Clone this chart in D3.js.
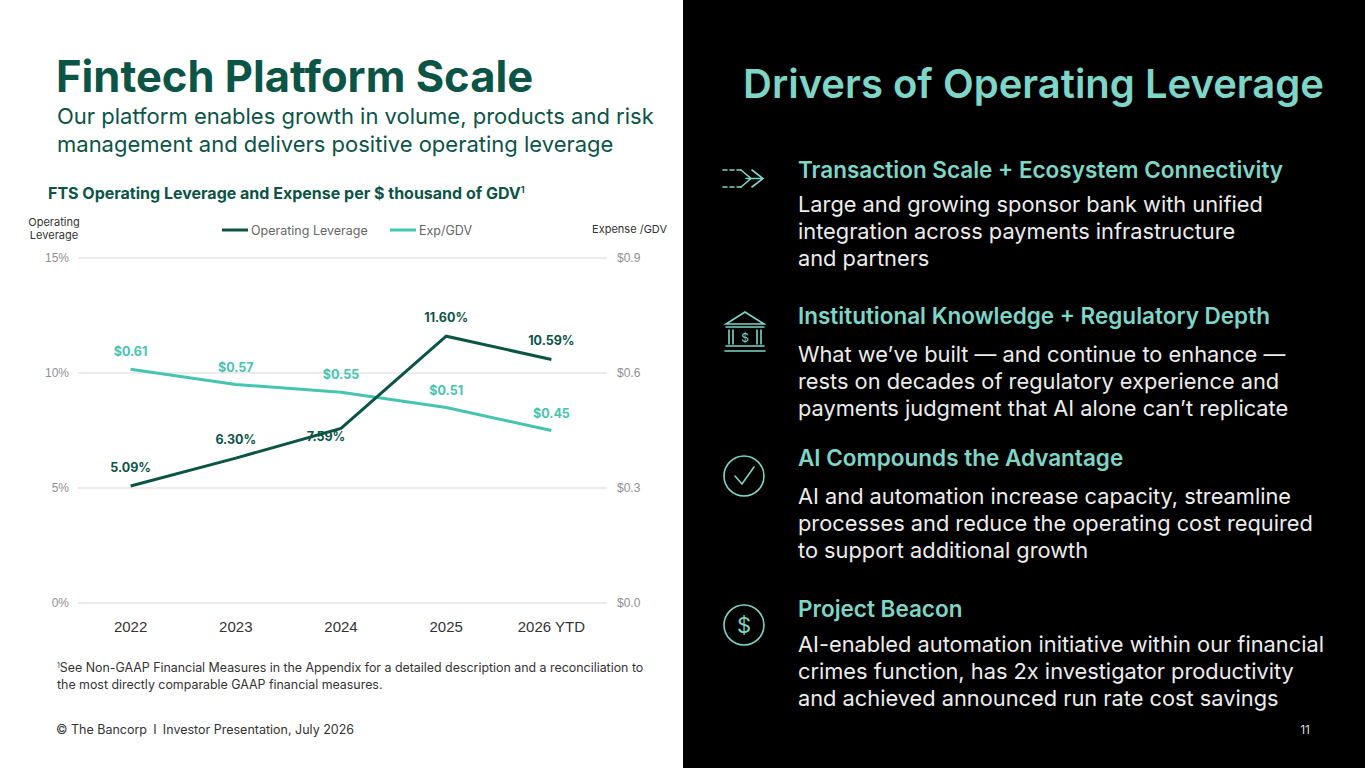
<!DOCTYPE html>
<html lang='en'>
	<head>
		<meta charset='utf-8'>
		<title>Fintech Platform Scale</title>
		<script type='text/javascript' src='https://cdn.jsdelivr.net/npm/d3@7/dist/d3.min.js'></script>
		<style>
			html, body { margin: 0; padding: 0; background: #fff; }
			svg { display: block; font-family: 'Inter', 'Noto Sans', sans-serif; }
			.grid line { stroke: #e6e6e6; stroke-width: 1.5px; }
			.axis text { fill: #8f8f8f; font-size: 12px; }
			.xaxis text { fill: #333; font-size: 15px; }
		</style>
	</head>
	<body>
		<script type='text/javascript'>
			var years = ['2022', '2023', '2024', '2025', '2026 YTD'];
			var opLeverage = [5.09, 6.30, 7.59, 11.60, 10.59];
			var expGdv = [0.61, 0.57, 0.55, 0.51, 0.45];
			var leftTicks = [0, 5, 10, 15];
			var rightTicks = [0, 0.3, 0.6, 0.9];

			var drivers = [
				{ title: 'Transaction Scale + Ecosystem Connectivity',
				  lines: ['Large and growing sponsor bank with unified', 'integration across payments infrastructure', 'and partners'] },
				{ title: 'Institutional Knowledge + Regulatory Depth',
				  lines: ['What we\u2019ve built \u2014 and continue to enhance \u2014', 'rests on decades of regulatory experience and', 'payments judgment that AI alone can\u2019t replicate'] },
				{ title: 'AI Compounds the Advantage',
				  lines: ['AI and automation increase capacity, streamline', 'processes and reduce the operating cost required', 'to support additional growth'] },
				{ title: 'Project Beacon',
				  lines: ['AI-enabled automation initiative within our financial', 'crimes function, has 2x investigator productivity', 'and achieved announced run rate cost savings'] }
			];

			var W = 1365, H = 768;
			var dark = '#0b5446', teal = '#45c4b0', light = '#7dd6c7';

			var svg = d3.select('body').append('svg')
				.attr('width', W).attr('height', H);

			// right dark panel
			svg.append('rect').attr('x', 683).attr('y', 0)
				.attr('width', W - 683).attr('height', H).attr('fill', '#000');

			// left header
			svg.append('text').attr('x', 56).attr('y', 92)
				.attr('fill', dark).attr('font-size', 43.5).attr('font-weight', 700)
				.text('Fintech Platform Scale');
			svg.append('text').attr('x', 57).attr('y', 124)
				.attr('fill', dark).attr('font-size', 22)
				.text('Our platform enables growth in volume, products and risk');
			svg.append('text').attr('x', 57).attr('y', 152)
				.attr('fill', dark).attr('font-size', 22)
				.text('management and delivers positive operating leverage');

			var ct = svg.append('text').attr('x', 48).attr('y', 199)
				.attr('fill', dark).attr('font-size', 16).attr('font-weight', 700)
				.text('FTS Operating Leverage and Expense per $ thousand of GDV');
			ct.append('tspan').attr('font-size', 9).attr('dy', -6).text('1');

			// axis titles
			svg.append('text').attr('x', 54).attr('y', 226).attr('text-anchor', 'middle')
				.attr('fill', '#333').attr('font-size', 11).text('Operating');
			svg.append('text').attr('x', 54).attr('y', 239).attr('text-anchor', 'middle')
				.attr('fill', '#333').attr('font-size', 11).text('Leverage');
			svg.append('text').attr('x', 667).attr('y', 233).attr('text-anchor', 'end')
				.attr('fill', '#333').attr('font-size', 11).text('Expense /GDV');

			// legend
			var legend = svg.append('g').attr('transform', 'translate(222,230)');
			[['Operating Leverage', dark, 0], ['Exp/GDV', teal, 168]].forEach(function(d) {
				legend.append('line').attr('x1', d[2]).attr('x2', d[2] + 26)
					.attr('stroke', d[1]).attr('stroke-width', 3);
				legend.append('text').attr('x', d[2] + 29).attr('y', 4.5)
					.attr('fill', '#666').attr('font-size', 12.5).text(d[0]);
			});

			// scales
			var x = d3.scaleBand().domain(years).range([78, 604]);
			var yL = d3.scaleLinear().domain([0, 15]).range([603, 258]);
			var yR = d3.scaleLinear().domain([0, 0.9]).range([603, 258]);
			var cx = function(d, i) { return x(years[i]) + x.bandwidth() / 2; };

			svg.append('g').attr('class', 'grid')
				.selectAll('line').data(leftTicks).enter().append('line')
				.attr('x1', 78).attr('x2', 607)
				.attr('y1', function(d) { return yL(d); })
				.attr('y2', function(d) { return yL(d); });

			svg.append('g').attr('class', 'axis')
				.attr('transform', 'translate(72,0)')
				.call(d3.axisLeft(yL).tickValues(leftTicks).tickSize(0)
					.tickFormat(function(d) { return d + '%'; }))
				.call(function(g) { g.select('.domain').remove(); });

			svg.append('g').attr('class', 'axis')
				.attr('transform', 'translate(614,0)')
				.call(d3.axisRight(yR).tickValues(rightTicks).tickSize(0)
					.tickFormat(function(d) { return '$' + d.toFixed(1); }))
				.call(function(g) { g.select('.domain').remove(); });

			svg.append('g').attr('class', 'xaxis')
				.attr('transform', 'translate(0,618)')
				.call(d3.axisBottom(x).tickSize(0))
				.call(function(g) { g.select('.domain').remove(); });

			// lines
			svg.append('path').datum(expGdv)
				.attr('fill', 'none').attr('stroke', teal).attr('stroke-width', 3)
				.attr('d', d3.line().x(cx).y(function(d) { return yR(d); }));
			svg.append('path').datum(opLeverage)
				.attr('fill', 'none').attr('stroke', dark).attr('stroke-width', 3)
				.attr('d', d3.line().x(cx).y(function(d) { return yL(d); }));

			// data labels
			var opOff = [[0, -14], [0, -14], [-15, 13], [0, -14], [0, -14]];
			svg.append('g').selectAll('text').data(opLeverage).enter().append('text')
				.attr('x', function(d, i) { return cx(d, i) + opOff[i][0]; })
				.attr('y', function(d, i) { return yL(d) + opOff[i][1]; })
				.attr('text-anchor', 'middle').attr('fill', dark)
				.attr('font-size', 12.5).attr('font-weight', 700)
				.text(function(d) { return d.toFixed(2) + '%'; });
			svg.append('g').selectAll('text').data(expGdv).enter().append('text')
				.attr('x', cx)
				.attr('y', function(d) { return yR(d) - 13; })
				.attr('text-anchor', 'middle').attr('fill', teal)
				.attr('font-size', 12.5).attr('font-weight', 700)
				.text(function(d) { return '$' + d.toFixed(2); });

			// footnote + footer
			var fn = svg.append('text').attr('x', 57).attr('y', 672)
				.attr('fill', '#333').attr('font-size', 12.4);
			fn.append('tspan').attr('font-size', 7).attr('dy', -4).text('1');
			fn.append('tspan').attr('dy', 4).text('See Non-GAAP Financial Measures in the Appendix for a detailed description and a reconciliation to');
			svg.append('text').attr('x', 57).attr('y', 689)
				.attr('fill', '#333').attr('font-size', 12.4)
				.text('the most directly comparable GAAP financial measures.');
			svg.append('text').attr('x', 56).attr('y', 734)
				.attr('fill', '#333').attr('font-size', 12.5)
				.text('\u00a9 The Bancorp\u2002I\u2002Investor Presentation, July 2026');
			svg.append('text').attr('x', 1310).attr('y', 734).attr('text-anchor', 'end')
				.attr('fill', '#ddd').attr('font-size', 12).text('11');

			// right panel
			svg.append('text').attr('x', 743).attr('y', 98)
				.attr('fill', light).attr('font-size', 40).attr('font-weight', 600)
				.text('Drivers of Operating Leverage');

			var tops = [178, 324, 466, 617];
			var bodyOff = [34, 38, 38, 35];
			drivers.forEach(function(d, i) {
				var g = svg.append('g').attr('transform', 'translate(798,' + tops[i] + ')');
				g.append('text').attr('fill', light).attr('font-size', 22.5).attr('font-weight', 600)
					.text(d.title);
				g.selectAll('text.body').data(d.lines).enter().append('text')
					.attr('class', 'body')
					.attr('y', function(l, j) { return bodyOff[i] + j * 27; })
					.attr('fill', '#ececec').attr('font-size', 21.8)
					.text(function(l) { return l; });
			});

			// icons
			var ic = svg.append('g').attr('fill', 'none').attr('stroke', light)
				.attr('stroke-width', 1.6).attr('stroke-linecap', 'round');
			// arrow
			ic.append('path').attr('d', 'M723,170H741M723,187H741').attr('stroke-dasharray', '4,3');
			ic.append('path').attr('d', 'M741,170L751,178.5L741,187M752,170L763,178.5L752,187M746,178.5H763');
			// bank
			ic.append('path').attr('d', 'M745,312L726,324H764Z');
			ic.append('path').attr('d', 'M726,327H764M726,346H764M725,351H765');
			ic.append('path').attr('d', 'M729,330V344M733,330V344M757,330V344M761,330V344');
			ic.append('text').attr('x', 745).attr('y', 342).attr('text-anchor', 'middle')
				.attr('fill', light).attr('stroke', 'none').attr('font-size', 12).text('$');
			// check
			ic.append('circle').attr('cx', 744).attr('cy', 476).attr('r', 20);
			ic.append('path').attr('d', 'M735,476L742,484L754,467');
			// dollar
			ic.append('circle').attr('cx', 744).attr('cy', 625).attr('r', 20);
			ic.append('text').attr('x', 744).attr('y', 633).attr('text-anchor', 'middle')
				.attr('fill', light).attr('stroke', 'none').attr('font-size', 22).text('$');
		</script>
	</body>
</html>
